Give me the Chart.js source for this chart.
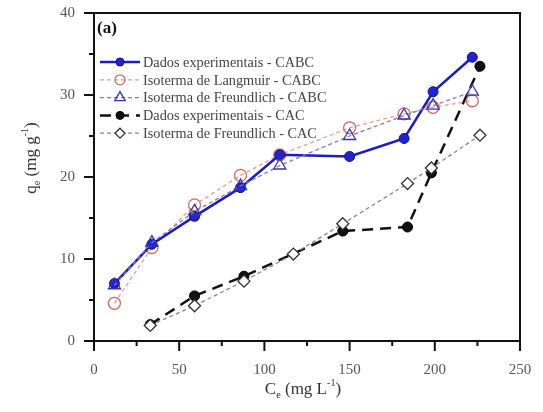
<!DOCTYPE html>
<html>
<head>
<meta charset="utf-8">
<script src="https://cdn.jsdelivr.net/npm/chart.js@4.4.1/dist/chart.umd.min.js"></script>
<style>
  html, body { margin: 0; padding: 0; background: #fff; }
  #wrap { width: 543px; height: 412px; position: relative; }
</style>
</head>
<body>
<div id="wrap"><canvas id="isoChart"></canvas></div>
<script>
// Ce values (mg L-1) and qe values (mg g-1)
const cabcCe = [12, 34, 59, 86, 109, 150, 182, 199, 222];
const cabcExp = [7.0, 11.8, 15.2, 18.7, 22.7, 22.5, 24.7, 30.4, 34.6];
const cabcLangmuir = [4.6, 11.4, 16.6, 20.2, 22.7, 26.0, 27.7, 28.5, 29.3];
const cabcFreundlich = [6.8, 12.0, 15.8, 18.9, 21.4, 25.0, 27.5, 28.7, 30.4];

const cacCe = [33, 59, 88, 117, 146, 184, 198, 226.5];
const cacExp = [2.0, 5.5, 7.9, null, 13.4, 13.9, 20.5, 33.5];
const cacFreundlich = [1.9, 4.3, 7.3, 10.6, 14.3, 19.2, 21.1, 25.1];

const seriesLabels = [
    'Dados experimentais - CABC',
    'Isoterma de Langmuir - CABC',
    'Isoterma de Freundlich - CABC',
    'Dados experimentais - CAC',
    'Isoterma de Freundlich - CAC'
];

const xTicks = [0, 50, 100, 150, 200, 250];
const yTicks = [0, 10, 20, 30, 40];

const SERIF = '"Liberation Serif", "DejaVu Serif", serif';

function toPoints(xs, ys) {
    return xs.map((x, i) => ({ x: x, y: ys[i] }));
}

// disegna un marker nella legenda
function drawMarker(ctx, style, x, y, r, fill, stroke, width) {
    ctx.save();
    ctx.setLineDash([]);
    ctx.lineWidth = width;
    ctx.strokeStyle = stroke;
    ctx.fillStyle = fill;
    ctx.beginPath();
    if (style === 'triangle') {
        ctx.moveTo(x, y - r);
        ctx.lineTo(x + r * 0.87, y + r * 0.5);
        ctx.lineTo(x - r * 0.87, y + r * 0.5);
        ctx.closePath();
    } else if (style === 'rectRot') {
        ctx.moveTo(x, y - r);
        ctx.lineTo(x + r, y);
        ctx.lineTo(x, y + r);
        ctx.lineTo(x - r, y);
        ctx.closePath();
    } else {
        ctx.arc(x, y, r, 0, Math.PI * 2);
    }
    ctx.fill();
    ctx.stroke();
    ctx.restore();
}

// testo con pedice e apice: parti [{t, mode}]
function drawRichText(ctx, parts, size) {
    let total = 0;
    parts.forEach(p => {
        ctx.font = (p.mode ? size * 0.6 : size) + 'px ' + SERIF;
        p.w = ctx.measureText(p.t).width;
        total += p.w;
    });
    let x = -total / 2;
    parts.forEach(p => {
        ctx.font = (p.mode ? size * 0.6 : size) + 'px ' + SERIF;
        let dy = 0;
        if (p.mode === 'sub') dy = size * 0.3;
        if (p.mode === 'sup') dy = -size * 0.4;
        ctx.fillText(p.t, x, dy);
        x += p.w;
    });
}

const framePlugin = {
    id: 'frame',
    afterDraw(chart) {
        const ctx = chart.ctx;
        const area = chart.chartArea;
        const xs = chart.scales.x;
        const ys = chart.scales.y;
        ctx.save();
        ctx.strokeStyle = '#111';
        ctx.lineWidth = 2;
        ctx.strokeRect(area.left, area.top, area.right - area.left, area.bottom - area.top);

        // tacche principali e secondarie
        ctx.lineWidth = 2;
        for (let v = 0; v <= 250; v += 25) {
            const px = xs.getPixelForValue(v);
            const len = v % 50 === 0 ? 10 : 5;
            ctx.beginPath();
            ctx.moveTo(px, area.bottom);
            ctx.lineTo(px, area.bottom + len);
            ctx.stroke();
        }
        for (let v = 0; v <= 40; v += 5) {
            const py = ys.getPixelForValue(v);
            const len = v % 10 === 0 ? 10 : 5;
            ctx.beginPath();
            ctx.moveTo(area.left, py);
            ctx.lineTo(area.left - len, py);
            ctx.stroke();
        }

        // titoli degli assi
        ctx.fillStyle = '#333';
        ctx.textBaseline = 'middle';
        ctx.textAlign = 'left';
        ctx.save();
        ctx.translate(303, 390);
        drawRichText(ctx, [
            { t: 'C' }, { t: 'e', mode: 'sub' }, { t: ' (mg L' }, { t: '-1', mode: 'sup' }, { t: ')' }
        ], 17);
        ctx.restore();
        ctx.save();
        ctx.translate(32, 158);
        ctx.rotate(-Math.PI / 2);
        drawRichText(ctx, [
            { t: 'q' }, { t: 'e', mode: 'sub' }, { t: ' (mg g' }, { t: '-1', mode: 'sup' }, { t: ')' }
        ], 17);
        ctx.restore();

        // etichetta del pannello
        ctx.fillStyle = '#111';
        ctx.font = 'bold 17px ' + SERIF;
        ctx.fillText('(a)', 97, 29);

        // legenda
        ctx.font = '14.3px ' + SERIF;
        chart.data.datasets.forEach((ds, i) => {
            const y = 62 + i * 17.8;
            ctx.save();
            ctx.strokeStyle = ds.borderColor;
            ctx.lineWidth = ds.borderWidth;
            ctx.setLineDash(ds.borderDash || []);
            ctx.beginPath();
            ctx.moveTo(100, y);
            ctx.lineTo(140, y);
            ctx.stroke();
            ctx.restore();
            drawMarker(ctx, ds.pointStyle, 120, y, ds.pointRadius - 1,
                ds.pointBackgroundColor, ds.pointBorderColor, ds.pointBorderWidth);
            ctx.fillStyle = '#444';
            ctx.fillText(ds.label, 143, y + 1);
        });
        ctx.restore();
    }
};

const datasets = [
    {
        label: seriesLabels[0],
        data: toPoints(cabcCe, cabcExp),
        borderColor: '#1c1cc4',
        borderWidth: 2.5,
        pointStyle: 'circle',
        pointRadius: 5,
        pointBackgroundColor: '#2222d0',
        pointBorderColor: '#101090',
        pointBorderWidth: 1,
        order: 2
    },
    {
        label: seriesLabels[1],
        data: toPoints(cabcCe, cabcLangmuir),
        borderColor: '#e4a090',
        borderWidth: 1.3,
        borderDash: [4, 3],
        pointStyle: 'circle',
        pointRadius: 6,
        pointBackgroundColor: 'rgba(255,255,255,0)',
        pointBorderColor: '#d06a5c',
        pointBorderWidth: 1.3,
        order: 3
    },
    {
        label: seriesLabels[2],
        data: toPoints(cabcCe, cabcFreundlich),
        borderColor: '#7878d4',
        borderWidth: 1.3,
        borderDash: [4, 3],
        pointStyle: 'triangle',
        pointRadius: 7,
        pointBackgroundColor: 'rgba(255,255,255,0)',
        pointBorderColor: '#3434b0',
        pointBorderWidth: 1.3,
        order: 1
    },
    {
        label: seriesLabels[3],
        data: toPoints(cacCe, cacExp),
        borderColor: '#111',
        borderWidth: 2.5,
        borderDash: [11, 7],
        pointStyle: 'circle',
        pointRadius: 5,
        pointBackgroundColor: '#111',
        pointBorderColor: '#000',
        pointBorderWidth: 1,
        spanGaps: true,
        order: 5
    },
    {
        label: seriesLabels[4],
        data: toPoints(cacCe, cacFreundlich),
        borderColor: '#888',
        borderWidth: 1.3,
        borderDash: [4, 3],
        pointStyle: 'rectRot',
        pointRadius: 6,
        pointBackgroundColor: '#fff',
        pointBorderColor: '#333',
        pointBorderWidth: 1.3,
        order: 4
    }
];

// griglia invisibile: serve solo a distanziare le etichette dall'asse
const hiddenGrid = (len) => ({
    display: true,
    drawOnChartArea: false,
    drawTicks: true,
    tickLength: len,
    tickColor: 'rgba(0,0,0,0)'
});

new Chart(document.getElementById('isoChart'), {
    type: 'scatter',
    data: { datasets: datasets.map(d => Object.assign({ showLine: true, tension: 0 }, d)) },
    options: {
        responsive: true,
        maintainAspectRatio: false,
        animation: false,
        layout: { padding: { top: 13, right: 23, left: 0, bottom: 0 } },
        plugins: {
            legend: { display: false },
            tooltip: { enabled: false }
        },
        scales: {
            x: {
                type: 'linear',
                min: 0,
                max: 250,
                afterBuildTicks: (scale) => { scale.ticks = xTicks.map(v => ({ value: v })); },
                afterFit: (scale) => { scale.height = 71; },
                grid: hiddenGrid(20),
                border: { display: false },
                ticks: {
                    padding: 0,
                    color: '#555',
                    font: { family: SERIF, size: 15 },
                    maxRotation: 0
                }
            },
            y: {
                min: 0,
                max: 40,
                afterBuildTicks: (scale) => { scale.ticks = yTicks.map(v => ({ value: v })); },
                afterFit: (scale) => { scale.width = 94; },
                grid: hiddenGrid(19),
                border: { display: false },
                ticks: {
                    padding: 0,
                    color: '#555',
                    font: { family: SERIF, size: 15 }
                }
            }
        }
    },
    plugins: [framePlugin]
});
</script>
</body>
</html>
